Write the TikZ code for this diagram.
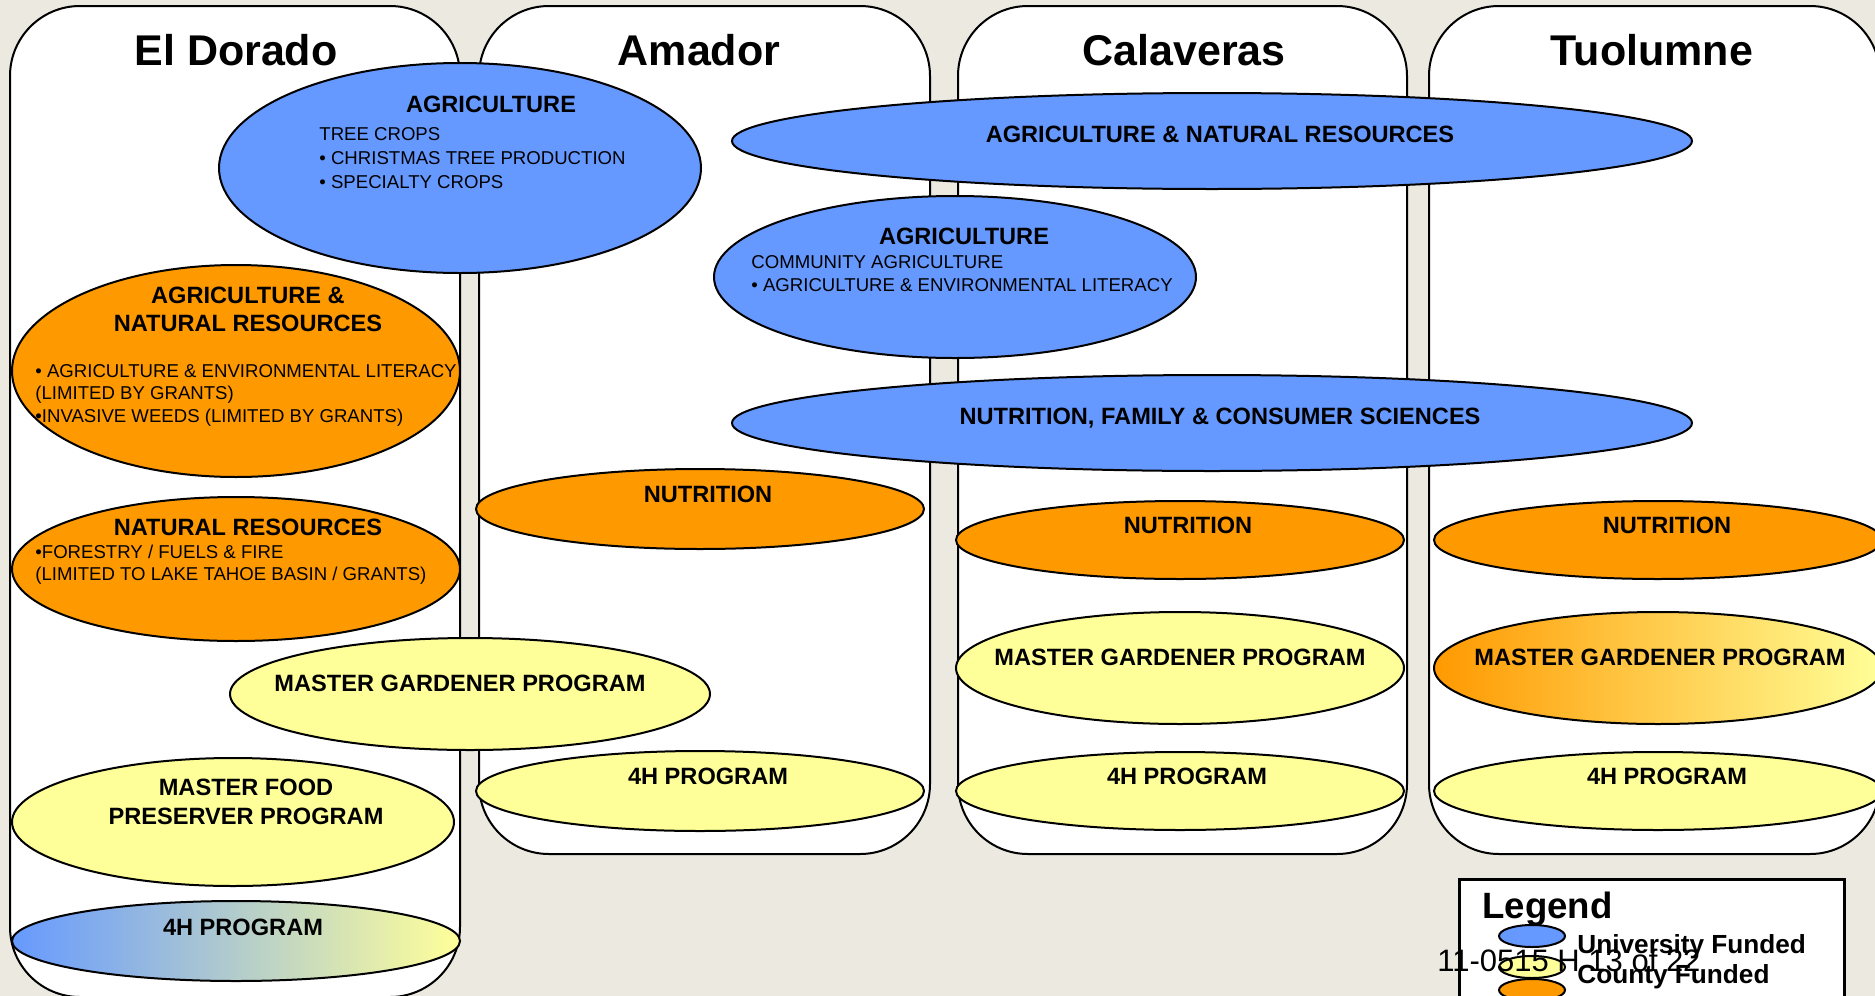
\documentclass[tikz,border=0pt]{standalone}
\usepackage{fontspec}
\setmainfont{Liberation Sans}
\usetikzlibrary{shapes.geometric}
\definecolor{bgc}{RGB}{236,233,224}
\definecolor{univ}{RGB}{102,153,255}
\definecolor{cnty}{RGB}{255,153,0}
\definecolor{ylw}{RGB}{255,255,153}
\tikzset{
  colbox/.style={rectangle, draw, fill=white, line width=1pt, rounded corners=35pt, inner sep=0pt},
  ov/.style 2 args={ellipse, draw, line width=1pt, inner sep=0pt, minimum width=#1pt, minimum height=#2pt},
  coltitle/.style={anchor=base, inner sep=0pt, font=\bfseries\fontsize{21.5}{26}\selectfont},
  ttl/.style={anchor=base, inner sep=0pt, font=\bfseries\fontsize{11.8}{14}\selectfont},
  bod/.style={anchor=base west, inner sep=0pt, font=\fontsize{9.3}{11}\selectfont},
}
\begin{document}
\begin{tikzpicture}[x=0.5pt, y=-0.5pt]
\fill[bgc] (0,0) rectangle (1875,996);
\useasboundingbox (0,0) rectangle (1875,996);
\clip (0,0) rectangle (1875,996);

% county columns
\node[colbox, minimum width=225pt, minimum height=495.5pt] (boxED) at (235,501.5) {};
\node[colbox, minimum width=225.5pt, minimum height=424pt] (boxAM) at (704.5,430) {};
\node[colbox, minimum width=224.5pt, minimum height=424pt] (boxCA) at (1182.5,430) {};
\node[colbox, minimum width=225.5pt, minimum height=424pt] (boxTU) at (1654.5,430) {};

\node[coltitle] (tED) at (236,65) {El Dorado};
\node[coltitle] (tAM) at (699,65) {Amador};
\node[coltitle] (tCA) at (1184,65) {Calaveras};
\node[coltitle] (tTU) at (1652,65) {Tuolumne};

% ellipses
\node[ov={241}{105}, fill=univ] (eAgED) at (460,168) {};
\node[ov={480}{48}, fill=univ] (eANRtop) at (1212,141) {};
\node[ov={241}{81}, fill=univ] (eAgCom) at (955,277) {};
\node[ov={480}{48}, fill=univ] (eNFCS) at (1212,423) {};
\node[ov={224}{106}, fill=cnty] (eANRED) at (236,371) {};
\node[ov={224}{72}, fill=cnty] (eNRED) at (236,569) {};
\node[ov={240}{56}, fill=ylw] (eMGED) at (470,694) {};
\node[ov={221}{64}, fill=ylw] (eMFP) at (233,822) {};
\node[ov={224}{40}, left color=univ, right color=ylw] (e4HED) at (236,941) {};
\node[ov={224}{40}, fill=cnty] (eNuAM) at (700,509) {};
\node[ov={224}{40}, fill=ylw] (e4HAM) at (700,791) {};
\node[ov={224}{39}, fill=cnty] (eNuCA) at (1180,540) {};
\node[ov={224}{56}, fill=ylw] (eMGCA) at (1180,668) {};
\node[ov={224}{39}, fill=ylw] (e4HCA) at (1180,791) {};
\node[ov={224}{39}, fill=cnty] (eNuTU) at (1658,540) {};
\node[ov={224}{56}, left color=cnty, right color=ylw] (eMGTU) at (1658,668) {};
\node[ov={224}{39}, fill=ylw] (e4HTU) at (1658,791) {};

% titles inside ellipses
\node[ttl] (x1) at (491,112) {AGRICULTURE};
\node[ttl] (x2) at (1220,142) {AGRICULTURE \& NATURAL RESOURCES};
\node[ttl] (x3) at (964,244) {AGRICULTURE};
\node[ttl] (x4) at (1220,424) {NUTRITION, FAMILY \& CONSUMER SCIENCES};
\node[ttl] (x5) at (248,303) {AGRICULTURE \&};
\node[ttl] (x6) at (248,331) {NATURAL RESOURCES};
\node[ttl] (x7) at (248,535) {NATURAL RESOURCES};
\node[ttl] (x8) at (460,691) {MASTER GARDENER PROGRAM};
\node[ttl] (x9) at (246,795) {MASTER FOOD};
\node[ttl] (x10) at (246,824) {PRESERVER PROGRAM};
\node[ttl] (x11) at (243,935) {4H PROGRAM};
\node[ttl] (x12) at (708,502) {NUTRITION};
\node[ttl] (x13) at (708,784) {4H PROGRAM};
\node[ttl] (x14) at (1188,533) {NUTRITION};
\node[ttl] (x15) at (1180,665) {MASTER GARDENER PROGRAM};
\node[ttl] (x16) at (1187,784) {4H PROGRAM};
\node[ttl] (x17) at (1667,533) {NUTRITION};
\node[ttl] (x18) at (1660,665) {MASTER GARDENER PROGRAM};
\node[ttl] (x19) at (1667,784) {4H PROGRAM};

% body lines
\node[bod] (b1) at (319,140) {TREE CROPS};
\node[bod] (b2) at (319,164) {• CHRISTMAS TREE PRODUCTION};
\node[bod] (b3) at (319,188) {• SPECIALTY CROPS};
\node[bod] (b4) at (751,268) {COMMUNITY AGRICULTURE};
\node[bod] (b5) at (751,291) {• AGRICULTURE \& ENVIRONMENTAL LITERACY};
\node[bod] (b6) at (35,377) {• AGRICULTURE \& ENVIRONMENTAL LITERACY};
\node[bod] (b7) at (35,399) {(LIMITED BY GRANTS)};
\node[bod] (b8) at (35,422) {•INVASIVE WEEDS (LIMITED BY GRANTS)};
\node[bod] (b9) at (35,558) {•FORESTRY / FUELS \& FIRE};
\node[bod] (b10) at (35,580) {(LIMITED TO LAKE TAHOE BASIN / GRANTS)};

% legend
\node[rectangle, draw, fill=white, line width=1.5pt, inner sep=0pt, minimum width=192.5pt, minimum height=65.5pt] (leg) at (1651.5,944.5) {};
\node[anchor=base west, inner sep=0pt, font=\bfseries\fontsize{18.3}{22}\selectfont] (legT) at (1482,918) {Legend};
\node[ov={33}{11}, fill=univ] (lU) at (1532,936) {};
\node[ov={33}{11}, fill=ylw] (lC) at (1532,967) {};
\node[ov={33}{11}, fill=cnty] (lO) at (1532,990) {};
\node[anchor=base west, inner sep=0pt, font=\fontsize{15.5}{18}\selectfont] (foot) at (1437,971) {11-0515 H 13 of 22};
\node[anchor=base west, inner sep=0pt, font=\bfseries\fontsize{13.1}{16}\selectfont] (lUt) at (1577,953) {University Funded};
\node[anchor=base west, inner sep=0pt, font=\bfseries\fontsize{13.1}{16}\selectfont] (lCt) at (1577,983) {County Funded};
\end{tikzpicture}
\end{document}
